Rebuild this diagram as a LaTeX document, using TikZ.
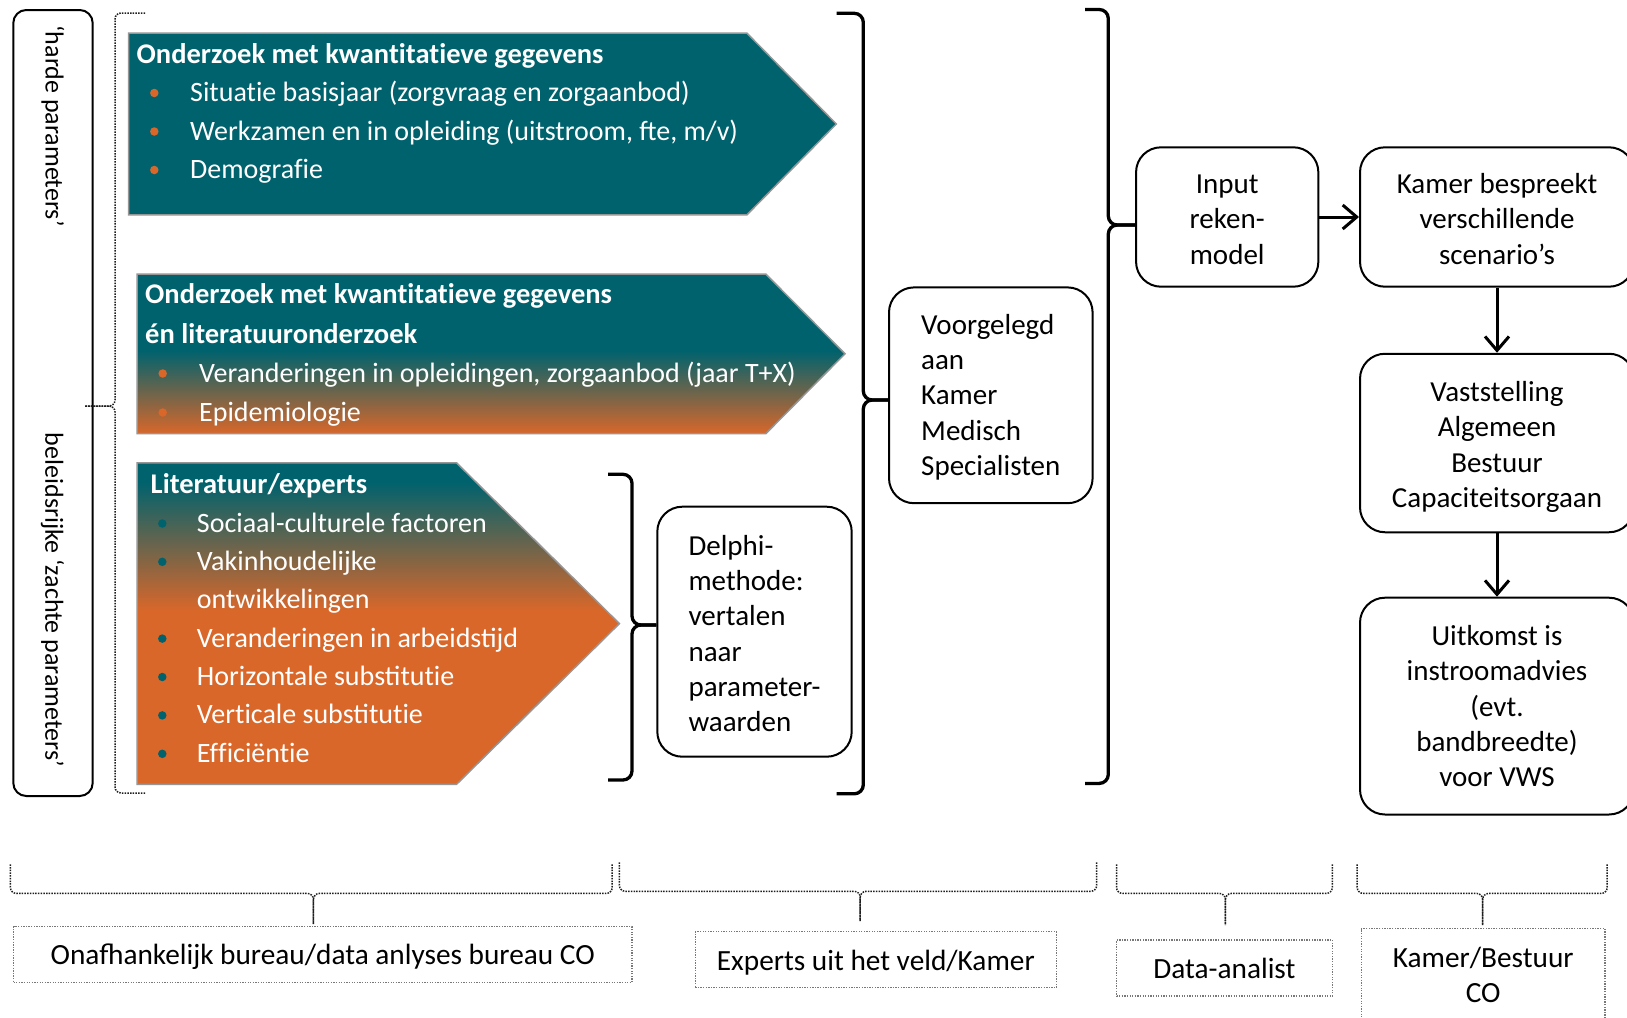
\documentclass[tikz,border=0pt]{standalone}
\usepackage{fontspec}
\setmainfont{Carlito}
\usetikzlibrary{arrows.meta}
\newcommand{\tI}{t\kern0pt i}
\newcommand{\fI}{f\kern0pt i}
\newcommand{\strutA}{\rule{0pt}{24pt}}
\definecolor{tealc}{RGB}{0,98,109}
\definecolor{orangec}{RGB}{217,103,42}
\definecolor{edgec}{RGB}{150,150,150}
\definecolor{dotc}{RGB}{30,30,30}
\definecolor{dotboxc}{RGB}{120,120,120}
\pgfdeclareverticalshading{shadeB}{100bp}{color(0bp)=(orangec); color(25bp)=(orangec); color(51bp)=(tealc); color(100bp)=(tealc)}
\pgfdeclareverticalshading{shadeC}{100bp}{color(0bp)=(orangec); color(52bp)=(orangec); color(72bp)=(tealc); color(100bp)=(tealc)}
\tikzset{
  arrowshape/.style={draw=edgec, line width=1.5pt},
  wtxt/.style={anchor=base west, inner sep=0pt, text=white, font=\fontsize{28}{34}\selectfont},
  wttl/.style={wtxt, font=\fontsize{28.5}{34}\selectfont\bfseries},
  bulo/.style={circle, fill=orangec, inner sep=0pt, minimum size=8.5pt},
  bult/.style={circle, fill=tealc, inner sep=0pt, minimum size=8.5pt},
  flowbox/.style={draw, line width=2pt, rounded corners=25pt, inner sep=0pt, font=\fontsize{29}{35.3}\selectfont},
  sidetxt/.style={rotate=-90, inner sep=0pt, font=\fontsize{26}{30}\selectfont},
  sbrace/.style={line width=3.3pt, rounded corners=9pt},
  dbrace/.style={draw=dotc, line width=1.5pt, dash pattern=on 1.5pt off 1.2pt, rounded corners=6pt},
  dotbox/.style={draw=dotboxc, line width=1.3pt, dash pattern=on 1.3pt off 1.3pt, inner sep=0pt, align=center, font=\fontsize{29.3}{34.5}\selectfont},
  onel/.style={text height=26pt, text depth=6pt},
  arr/.style={line width=3pt, -{Straight Barb[length=14pt, width=24pt, line width=3pt]}},
}
\begin{document}
\begin{tikzpicture}[x=1pt,y=-1pt]
\path[use as bounding box] (0,0) rectangle (1627,1017);
\clip (0,0) rectangle (1627,1017);
\fill[white] (0,0) rectangle (1627,1017);

% left box with rotated texts
\node[draw, line width=2pt, rounded corners=13pt, minimum width=79.4pt, minimum height=786pt, inner sep=0pt] (leftbox) at (53,403) {};
\node[sidetxt] (hard) at (53,126) {‘harde parameters’};
\node[sidetxt] (soft) at (52.5,600) {beleidsrijke ‘zachte parameters’};

% dotted left brace
\coordinate (lbtip) at (85,406);
\draw[dbrace] (145,13) -- (115,13) -- (115,406) -- (lbtip);
\draw[dbrace] (145,793) -- (115,793) -- (115,406) -- (lbtip);

% arrow A
\filldraw[fill=tealc, arrowshape] (128.7,33.2) -- (747,33.2) -- (836.3,124) -- (747,214.8) -- (128.7,214.8) -- cycle;
\node[wttl] (aT) at (136.5,63.5) {Onderzoek met kwan\tI ta\tI eve gegevens};
\node[bulo] (aB1) at (154.3,93) {};
\node[wtxt] (a1) at (190,101.5) {Situa\tI e basisjaar (zorgvraag en zorgaanbod)};
\node[bulo] (aB2) at (154.3,131.5) {};
\node[wtxt] (a2) at (190,140) {Werkzamen en in opleiding (uitstroom, fte, m/v)};
\node[bulo] (aB3) at (154.3,170) {};
\node[wtxt] (a3) at (190,178.5) {Demogra\fI e};

% arrow B
\shadedraw[shading=shadeB, arrowshape] (137,274) -- (765.8,274) -- (845,353.8) -- (765.8,433.7) -- (137,433.7) -- cycle;
\node[wttl] (bT1) at (145,303.5) {Onderzoek met kwan\tI ta\tI eve gegevens};
\node[wttl] (bT2) at (145,343) {én literatuuronderzoek};
\node[bulo] (bB1) at (162.7,373.5) {};
\node[wtxt] (b1) at (199,382) {Veranderingen in opleidingen, zorgaanbod (jaar T+X)};
\node[bulo] (bB2) at (162.7,412.5) {};
\node[wtxt] (b2) at (199,421) {Epidemiologie};

% arrow C
\shadedraw[shading=shadeC, arrowshape] (137,462.8) -- (456.5,462.8) -- (619.4,623.6) -- (456.5,784.4) -- (137,784.4) -- cycle;
\node[wttl] (cT) at (150.5,493.6) {Literatuur/experts};
\node[bult] (cB1) at (162.3,523.5) {};
\node[wtxt] (c1) at (196.7,532) {Sociaal-culturele factoren};
\node[bult] (cB2) at (162.3,561.8) {};
\node[wtxt] (c2) at (196.7,570.3) {Vakinhoudelijke};
\node[wtxt] (c2b) at (196.7,608.7) {ontwikkelingen};
\node[bult] (cB3) at (162.3,638.6) {};
\node[wtxt] (c3) at (196.7,647.1) {Veranderingen in arbeidstijd};
\node[bult] (cB4) at (162.3,677) {};
\node[wtxt] (c4) at (196.7,685.5) {Horizontale substitu\tI e};
\node[bult] (cB5) at (162.3,715.4) {};
\node[wtxt] (c5) at (196.7,723.9) {Ver\tI cale substitu\tI e};
\node[bult] (cB6) at (162.3,753.8) {};
\node[wtxt] (c6) at (196.7,762.3) {Ef\kern0pt\fI ciën\tI e};

% Delphi box and brace
\node[flowbox, minimum width=194.4pt, minimum height=250pt, align=left] (delphi) at (754.5,631.7) {\strutA Delphi-\\methode:\\vertalen\\naar\\parameter-\\waarden};
\draw[sbrace] (608,474.3) -- (632,474.3) -- (632,625) -- ([yshift=6.7pt]delphi.west);
\draw[sbrace] (608,780) -- (632,780) -- (632,625) -- ([yshift=6.7pt]delphi.west);

% Voorgelegd box and brace
\node[flowbox, minimum width=203.6pt, minimum height=215.8pt, align=left] (voor) at (990.8,395.3) {\strutA Voorgelegd\\aan\\Kamer\\Medisch\\Specialisten};
\draw[sbrace] (836.7,13.3) -- (863.3,13.3) -- (863.3,400) -- ([yshift=-4.7pt]voor.west);
\draw[sbrace] (836.7,793.8) -- (863.3,793.8) -- (863.3,400) -- ([yshift=-4.7pt]voor.west);

% Input box and brace
\node[flowbox, minimum width=182.3pt, minimum height=139.4pt, align=center] (input) at (1227.2,217) {\strutA Input\\reken-\\model};
\draw[sbrace] (1085,9.5) -- (1108.3,9.5) -- (1108.3,225) -- ([yshift=-8pt]input.west);
\draw[sbrace] (1085,783.4) -- (1108.3,783.4) -- (1108.3,225) -- ([yshift=-8pt]input.west);

% right column
\node[flowbox, minimum width=274pt, minimum height=139.4pt, align=center] (kamer) at (1497,217) {\strutA Kamer bespreekt\\verschillende\\scenario’s};
\node[flowbox, minimum width=274pt, minimum height=178.5pt, align=center] (vast) at (1497,443) {\rule{0pt}{28pt}Vaststelling\\Algemeen\\Bestuur\\Capaciteitsorgaan};
\node[flowbox, minimum width=274pt, minimum height=216.8pt, align=center] (uit) at (1497,706.1) {Uitkomst is\\instroomadvies\\(evt.\\bandbreedte)\\voor VWS};
\draw[arr] (input.east) -- (kamer.west);
\draw[arr] (kamer.south) -- (vast.north);
\draw[arr] (vast.south) -- (uit.north);

% bottom boxes
\node[dotbox, onel, minimum width=618.4pt, minimum height=56pt] (bx1) at (322.7,954.6) {Onafhankelijk bureau/data anlyses bureau CO};
\node[dotbox, text height=28pt, text depth=6pt, minimum width=361.1pt, minimum height=56pt] (bx2) at (875.8,959.8) {Experts uit het veld/Kamer};
\node[dotbox, onel, minimum width=215.8pt, minimum height=56pt] (bx3) at (1224.4,968) {Data-analist};
\node[dotbox, minimum width=243.8pt, minimum height=93pt] (bx4) at (1483.2,975) {Kamer/Bestuur\\CO};

% bottom dotted braces
\coordinate (t1) at (313.4,924);
\draw[dbrace] (10.4,864.3) -- (10.4,893.4) -- (313.4,893.4) -- (t1);
\draw[dbrace] (612.2,864.3) -- (612.2,893.4) -- (313.4,893.4) -- (t1);
\coordinate (t2) at (860.2,921);
\draw[dbrace] (619.4,862.3) -- (619.4,891.3) -- (860.2,891.3) -- (t2);
\draw[dbrace] (1096.7,862.3) -- (1096.7,891.3) -- (860.2,891.3) -- (t2);
\coordinate (t3) at (1225.4,925);
\draw[dbrace] (1116.5,864.3) -- (1116.5,893.4) -- (1225.4,893.4) -- (t3);
\draw[dbrace] (1332.3,864.3) -- (1332.3,893.4) -- (1225.4,893.4) -- (t3);
\coordinate (t4) at (1482.7,925);
\draw[dbrace] (1357.2,864.3) -- (1357.2,893.4) -- (1482.7,893.4) -- (t4);
\draw[dbrace] (1607.2,864.3) -- (1607.2,893.4) -- (1482.7,893.4) -- (t4);
\end{tikzpicture}
\end{document}
